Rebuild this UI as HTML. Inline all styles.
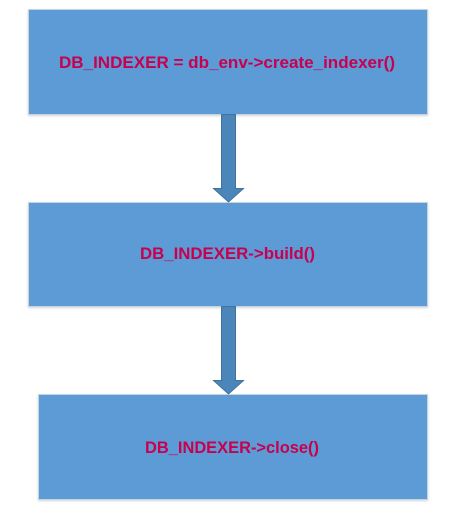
<!DOCTYPE html>
<html><head><meta charset="utf-8"><style>
html,body{margin:0;padding:0;background:#fff;}
</style></head><body>
<svg width="467" height="513" viewBox="0 0 467 513" xmlns="http://www.w3.org/2000/svg">
<defs>
<filter id="s" x="-5%" y="-5%" width="110%" height="115%"><feDropShadow dx="0" dy="1" stdDeviation="1" flood-color="#9ab" flood-opacity="0.5"/></filter>
</defs>
<g fill="#5b9bd5" stroke="#c9d3dc" stroke-width="1" filter="url(#s)">
<rect x="28.5" y="9.5" width="399" height="105"/>
<rect x="28.5" y="202.5" width="399" height="104"/>
<rect x="38.5" y="394.5" width="389" height="105"/>
</g>
<g fill="#4a86b9" stroke="#41719c" stroke-width="1">
<polygon points="221.5,114.5 235.5,114.5 235.5,188.5 243.5,188.5 228.5,202 213.5,188.5 221.5,188.5"/>
<polygon points="221.5,306.5 235.5,306.5 235.5,380.5 243.5,380.5 228.5,394 213.5,380.5 221.5,380.5"/>
</g>
<g fill="#c8004e" font-family="'Liberation Sans',Arial,sans-serif" font-weight="bold" font-size="17">
<text x="59" y="68" textLength="336" lengthAdjust="spacingAndGlyphs">DB_INDEXER = db_env-&gt;create_indexer()</text>
<text x="140" y="259" textLength="175" lengthAdjust="spacingAndGlyphs">DB_INDEXER-&gt;build()</text>
<text x="145" y="453" textLength="174" lengthAdjust="spacingAndGlyphs">DB_INDEXER-&gt;close()</text>
</g>
</svg>
</body></html>
